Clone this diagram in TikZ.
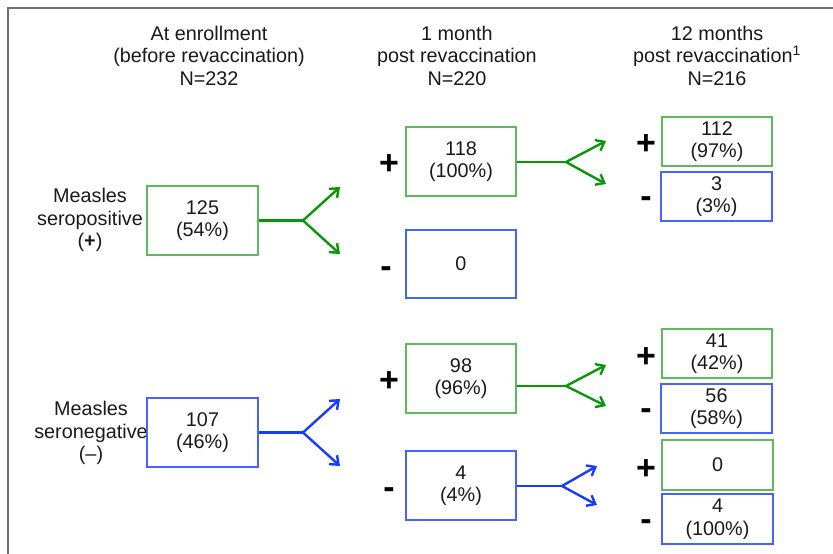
\documentclass[tikz,border=0pt]{standalone}
\usepackage{fontspec}
\setmainfont{Liberation Sans}
\usetikzlibrary{arrows.meta}
\definecolor{boxgreen}{RGB}{95,185,95}
\definecolor{boxblue}{RGB}{70,100,250}
\definecolor{argreen}{RGB}{10,150,10}
\definecolor{arblue}{RGB}{25,60,250}
\definecolor{framegray}{RGB}{110,110,110}
\definecolor{ink}{RGB}{25,25,25}
\tikzset{
  txt/.style={font=\fontsize{19.8}{22.5}\selectfont, text=ink, align=center, inner sep=0pt},
  gbox/.style={draw=boxgreen, line width=1.1pt, txt, minimum width=110pt, minimum height=69pt},
  bbox/.style={draw=boxblue, line width=1.1pt, txt, minimum width=110pt, minimum height=69pt},
  sbox/.style={minimum width=110pt, minimum height=49pt},
  sign/.style={font=\fontsize{34}{34}\bfseries\selectfont, inner sep=0pt},
  garr/.style={draw=argreen, line width=2.4pt},
  barr/.style={draw=arblue, line width=2.4pt},
  tip/.style={-{Straight Barb[length=7.5pt,width=12pt,line width=2.4pt]}},
}
\begin{document}
\begin{tikzpicture}[x=1pt,y=-1pt]
\useasboundingbox (0,0) rectangle (833,554);
% frame
\coordinate (fa) at (8,554);
\coordinate (fb) at (8,8);
\coordinate (fc) at (833,8);
\draw[framegray, line width=2pt] (fa) -- (fb) -- (fc);

% headers
\node[txt] (h1) at (209,55.5) {At enrollment\\(before revaccination)\\N=232};
\node[txt] (h2) at (457,55.5) {1 month\\post revaccination\\N=220};
\node[txt] (h3) at (717,55.5) {12 months\\post revaccination\textsuperscript{1}\\N=216};

% left labels
\node[txt] (l1) at (90,220) {Measles\\seropositive\\(\textbf{+})};
\node[txt] (l2) at (91,433) {Measles\\seronegative\\(–)};

% enrollment boxes
\node[gbox, minimum width=111pt] (e1) at (202.5,220.5) {125\\(54\%)};
\node[bbox, minimum width=111pt] (e2) at (202.5,432.5) {107\\(46\%)};

% 1 month boxes
\node[gbox] (m1) at (461,161.5) {118\\(100\%)};
\node[bbox, minimum height=68pt] (m2) at (461,264) {0};
\node[gbox] (m3) at (461,378.5) {98\\(96\%)};
\node[bbox] (m4) at (461,485.5) {4\\(4\%)};

% 12 month boxes
\node[gbox, sbox] (t1) at (717,141.5) {112\\(97\%)};
\node[bbox, sbox, minimum width=111pt] (t2) at (716.5,196.5) {3\\(3\%)};
\node[gbox, sbox] (t3) at (717,353.5) {41\\(42\%)};
\node[bbox, sbox, minimum width=111pt] (t4) at (716.5,408.5) {56\\(58\%)};
\node[gbox, sbox, minimum width=111pt, minimum height=50pt] (t5) at (717.5,465) {0};
\node[bbox, sbox, minimum width=111pt, minimum height=50pt] (t6) at (717.5,519) {4\\(100\%)};

% signs
\node[sign] (s1) at (389,165) {+};
\node[sign] (s2) at (386,272) {-};
\node[sign] (s3) at (389,382) {+};
\node[sign] (s4) at (389,493) {-};
\node[sign] (s5) at (646,145) {+};
\node[sign] (s6) at (646,202) {-};
\node[sign] (s7) at (646,358) {+};
\node[sign] (s8) at (646,414) {-};
\node[sign] (s9) at (646,470) {+};
\node[sign] (s10) at (646,525) {-};

% branch points and arrow ends
\coordinate (b1) at (303,220.5);
\coordinate (b1u) at (340,187);
\coordinate (b1d) at (340,254);
\coordinate (b2) at (303,432.5);
\coordinate (b2u) at (340,399);
\coordinate (b2d) at (340,466);
\coordinate (b3) at (566,162);
\coordinate (b3u) at (606,141);
\coordinate (b3d) at (606,184);
\coordinate (b4) at (566,386);
\coordinate (b4u) at (606,365);
\coordinate (b4d) at (606,406);
\coordinate (b5) at (562,486);
\coordinate (b5u) at (597,466);
\coordinate (b5d) at (597,505);

\draw[garr] (e1.east) -- (b1);
\draw[garr, tip] (b1) -- (b1u);
\draw[garr, tip] (b1) -- (b1d);
\draw[barr] (e2.east) -- (b2);
\draw[barr, tip] (b2) -- (b2u);
\draw[barr, tip] (b2) -- (b2d);
\draw[garr] (m1.east |- b3) -- (b3);
\draw[garr, tip] (b3) -- (b3u);
\draw[garr, tip] (b3) -- (b3d);
\draw[garr] (m3.east |- b4) -- (b4);
\draw[garr, tip] (b4) -- (b4u);
\draw[garr, tip] (b4) -- (b4d);
\draw[barr] (m4.east |- b5) -- (b5);
\draw[barr, tip] (b5) -- (b5u);
\draw[barr, tip] (b5) -- (b5d);
\end{tikzpicture}
\end{document}
